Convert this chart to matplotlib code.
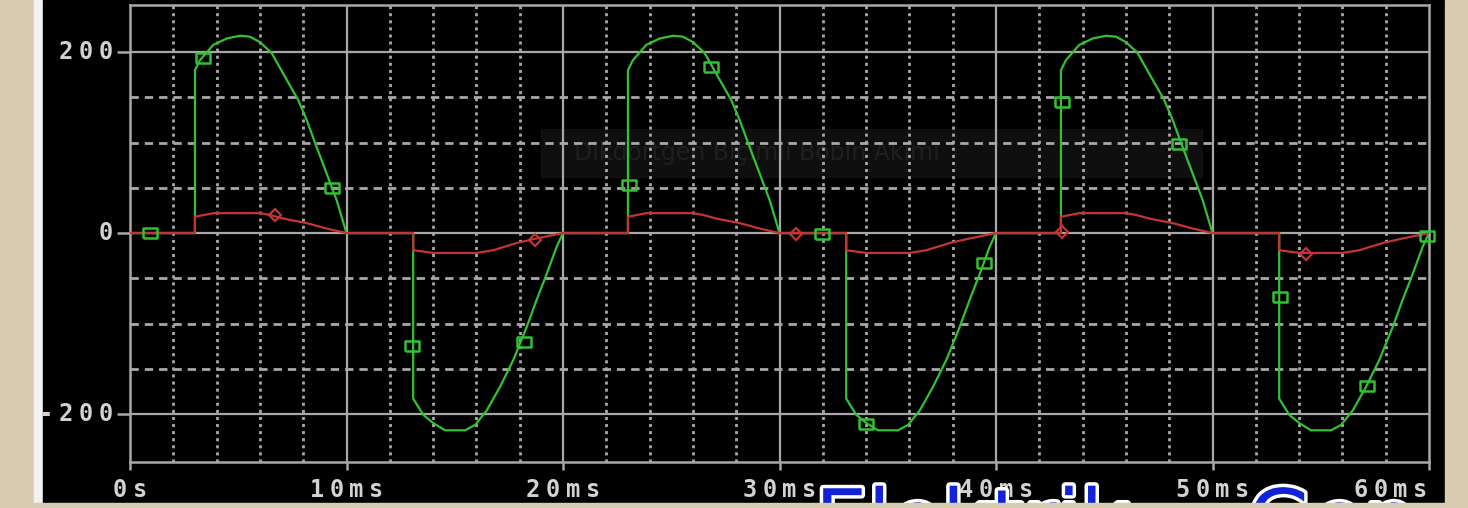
import matplotlib
matplotlib.use("Agg")
import matplotlib.pyplot as plt
import matplotlib.patches as mpatches
import matplotlib.patheffects as pe
from matplotlib.transforms import IdentityTransform
import numpy as np

# one period of each trace (t in ms)
period = 20.0
n_periods = 3
green_t = [0, 3.0, 3.0, 3.23, 3.85, 4.47, 5.08, 5.54, 6.0, 6.54, 7.08, 7.77, 8.16, 8.62, 9.08, 9.55, 10.0,
           13.08, 13.08, 13.55, 14.01, 14.55, 15.47, 15.94, 16.48, 17.09, 17.71, 18.32, 18.78, 19.25, 19.71, 20.0]
green_v = [0, 0, 180, 191, 208, 215, 218, 217, 211, 199, 176, 147, 125, 95, 66, 36, 0,
           0, -183, -201, -210, -218, -218, -212, -196, -170, -140, -104, -74, -45, -15, 0]
red_t = [0, 3.0, 3.0, 3.85, 6.0, 6.47, 7.08, 8.16, 9.08, 10.0,
         13.08, 13.08, 14.01, 16.0, 16.78, 17.86, 18.78, 20.0]
red_v = [0, 0, 18, 22, 22, 20, 16, 11, 5, 0,
         0, -19, -22, -22, -19, -11, -6, 0]

# marker positions
green_mk_t = [0.92, 3.37, 9.33, 13.03, 18.2, 23.05, 26.84, 31.96, 34.0, 39.45, 43.05, 48.45, 53.12, 57.14, 59.9]
green_mk_v = [0, 193, 50, -125, -120, 53, 183, -1, -211, -33, 145, 98, -71, -169, -3]
red_mk_t = [6.7, 18.7, 30.76, 43.05, 54.3]
red_mk_v = [20, -8, -1, 1, -23]

x_ticks = [0, 10, 20, 30, 40, 50, 60]
x_labels = ['0s', '10ms', '20ms', '30ms', '40ms', '50ms', '60ms']
y_ticks = [200, 0, -200]
y_labels = ['200', '0', '-200']

W, H = 1468, 508
fig = plt.figure(figsize=(W / 100, H / 100), dpi=100)
fig.patch.set_facecolor('#d8ccb2')

def px_rect(x0, y0, x1, y1, color, z=0):
    fig.patches.append(mpatches.Rectangle((x0 / W, 1 - y1 / H), (x1 - x0) / W, (y1 - y0) / H,
                                          transform=fig.transFigure, color=color, zorder=z))

px_rect(34, 0, 43, 503, '#f2f2f2', z=-2)
px_rect(43, 0, 1445, 503, '#000000', z=-2)

ax = fig.add_axes([130 / W, 1 - 462 / H, (1429 - 130) / W, (462 - 5) / H])
ax.set_zorder(1)
ax.set_facecolor('#000000')
ax.set_xlim(0, 60)
ax.set_ylim(-253, 252)

plt.rcParams['lines.scale_dashes'] = False
grid_c = '#a8a8a8'
# faint caption box
ax.add_patch(mpatches.Rectangle((19.0, 62), 30.5, 53, color='#0f0f0f', zorder=0.5))
ax.text(20.5, 88, 'Dikdörtgen Biçimli Bobin Akımı', color='#1f1f1f', fontsize=17, va='center', zorder=0.6)

for xm in np.arange(2, 60, 2):
    if xm % 10 == 0:
        ax.axvline(xm, color=grid_c, lw=1.6, zorder=1)
    else:
        ax.axvline(xm, color=grid_c, lw=2.0, dashes=(2.2, 2.9), zorder=1)
for ym in [-150, -100, -50, 50, 100, 150]:
    ax.axhline(ym, color=grid_c, lw=2.0, dashes=(6, 4.3), zorder=1)
for ym in y_ticks:
    ax.axhline(ym, color=grid_c, lw=1.6, zorder=1)

for k in range(n_periods):
    off = k * period
    ax.plot(np.array(green_t) + off, green_v, color='#33c133', lw=1.6, zorder=3)
    ax.plot(np.array(red_t) + off, red_v, color='#c43434', lw=1.6, zorder=4)

rect_mk = [(-1.4, -1), (1.4, -1), (1.4, 1), (-1.4, 1), (-1.4, -1)]
ax.plot(green_mk_t, green_mk_v, ls='none', marker=rect_mk, ms=10, mfc='none', mec='#33c133', mew=1.8,
        zorder=5, clip_on=False)
ax.plot(red_mk_t, red_mk_v, ls='none', marker='D', ms=6, mfc='none', mec='#c43434', mew=1.6, zorder=5)

for s in ax.spines.values():
    s.set_color(grid_c)
    s.set_linewidth(1.8)
ax.set_xticks(x_ticks)
ax.set_yticks(y_ticks)
ax.set_xticklabels([])
ax.set_yticklabels([])
ax.tick_params(axis='x', length=6, width=1.8, color=grid_c, direction='out')
ax.tick_params(axis='y', length=9.5, width=1.8, color=grid_c, direction='out')

# pixel-font style labels, one char at a time
pitch = 20
lab_c = '#d2d2d2'
def char_label(xr, yc, s):
    for i, c in enumerate(reversed(s)):
        fig.text(xr - 7.5 - i * pitch, yc, c, transform=IdentityTransform(), ha='center', va='center',
                 family='DejaVu Sans Mono', weight='bold', fontsize=17, color=lab_c, zorder=5)

for v, s in zip(y_ticks, y_labels):
    _, yp = ax.transData.transform((0, v))
    char_label(113, yp, s)
for v, s in zip(x_ticks, x_labels):
    xp, _ = ax.transData.transform((v, 0))
    wid = len(s) * pitch - 5
    xr = xp + wid / 2
    if xr > 1428:
        xr = 1428
    char_label(xr, H - 490, s)

# watermark at bottom, cut by the frame edge
for txt, x0 in [('Elektrik', 815), ('Gen', 1248)]:
    wm = fig.text(x0 / W, 1 - 549 / H, txt, color='#1222d8', fontsize=60,
                  family='DejaVu Sans', ha='left', va='baseline', zorder=10)
    wm.set_path_effects([pe.withStroke(linewidth=5, foreground='white')])
px_rect(0, 503, W, H, '#d8ccb2', z=20)
px_rect(1445, 0, W, H, '#d8ccb2', z=20)

fig.savefig('out.png', dpi=100, facecolor=fig.get_facecolor())
